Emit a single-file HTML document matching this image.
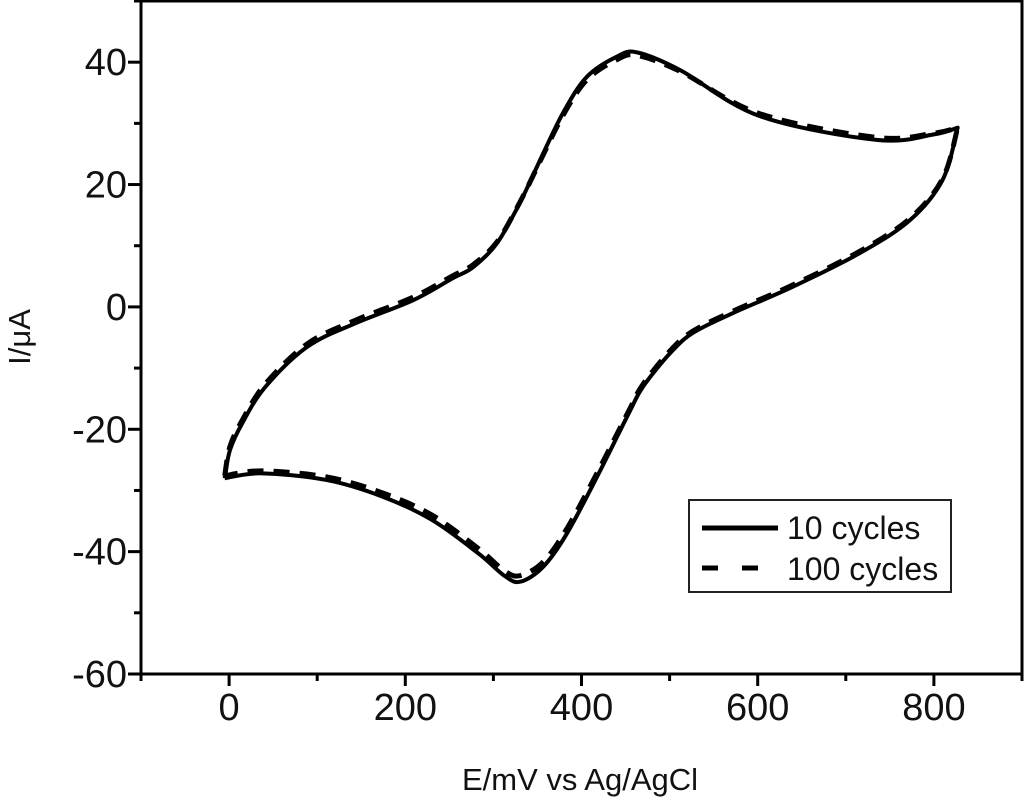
<!DOCTYPE html>
<html><head><meta charset="utf-8"><style>
body{margin:0;background:#fff}
svg{display:block;font-family:"Liberation Sans",sans-serif}
</style></head><body>
<svg id="chart" width="1024" height="808">
<g id="axes"></g><g id="plot"></g>
<text x="580" y="790" font-size="31" text-anchor="middle" fill="#111">E/mV vs Ag/AgCl</text>
<text transform="translate(30,337) rotate(-90)" font-size="31" text-anchor="middle" fill="#111">I/μA</text>
<g>
<rect x="689" y="500" width="262" height="92" fill="#fff" stroke="#222" stroke-width="2"/>
<line x1="702" y1="528" x2="778" y2="528" stroke="#000" stroke-width="5"/>
<line x1="702" y1="568" x2="778" y2="568" stroke="#000" stroke-width="5" stroke-dasharray="16,24"/>
<text x="787" y="539" font-size="32" fill="#111">10 cycles</text>
<text x="787" y="580" font-size="32" fill="#111">100 cycles</text>
</g>
</svg>
<script>
const xTicks=[0,200,400,600,800];
const yTicks=[-60,-40,-20,0,20,40];
const E10=[-5,1,15,41,89,143,209,254,277,304,330,353,379,406,440,463,512,602,735,800,827,810,773,716,640,572,527,501,470,455,420,384,357,331,313,283,230,174,111,37,-5];
const I10=[-28,-23.4,-19,-13.1,-6.5,-2.7,1.1,4.7,6.5,10.4,17,24,31.7,37.6,40.9,41.6,38.7,31.2,27.3,28.2,29.3,20.8,14.2,8.8,3.3,-1,-4.2,-7.5,-13,-17,-27.1,-36.9,-42.4,-44.9,-44,-40.3,-34.8,-31,-28.3,-27.2,-28];
const E100=[-5,1,15,41,89,143,209,254,277,304,330,353,379,406,440,463,512,602,735,800,827,810,773,716,640,572,527,501,470,455,420,384,357,331,313,283,230,174,111,37,-5];
const I100=[-27.6,-22.8,-18.5,-12.6,-6,-2.2,1.6,5.1,6.9,10.6,17.1,23.8,31.3,37.1,40.4,41.1,38.5,31.6,27.7,28.4,29.3,21,14.5,9.1,3.6,-0.7,-3.9,-7.1,-12.6,-16.6,-26.5,-36.1,-41.6,-43.9,-43.2,-39.5,-34,-30.4,-27.8,-26.8,-27.6];
const X0=141,X1=1022,Y0=1,Y1=674,xmin=-100,xmax=900,ymin=-60,ymax=50;
const sx=v=>X0+(v-xmin)/(xmax-xmin)*(X1-X0);
const sy=v=>Y1-(v-ymin)/(ymax-ymin)*(Y1-Y0);
const NS="http://www.w3.org/2000/svg";
const axes=document.getElementById('axes'),plot=document.getElementById('plot');
function mk(t,a,p){const e=document.createElementNS(NS,t);for(const k in a)e.setAttribute(k,a[k]);p.appendChild(e);return e;}
const frame=mk('rect',{x:X0,y:Y0,width:X1-X0,height:Y1-Y0,fill:'none',stroke:'#000','stroke-width':3},axes);


for(let v=-100;v<=900;v+=100){const maj=v%200===0;const t=mk('line',{x1:sx(v),x2:sx(v),y1:Y1,y2:Y1+(maj?12:7),stroke:'#000','stroke-width':3},axes);

}
for(let v=-60;v<=50;v+=10){const maj=v%20===0;const t=mk('line',{x1:X0,x2:X0-(maj?13:7),y1:sy(v),y2:sy(v),stroke:'#000','stroke-width':3},axes);

}
xTicks.forEach(v=>{const t=mk('text',{x:sx(v),y:720,'font-size':38,'text-anchor':'middle',fill:'#111'},axes);t.textContent=v;

});
yTicks.forEach(v=>{const t=mk('text',{x:127,y:sy(v)+13,'font-size':38,'text-anchor':'end',fill:'#111'},axes);t.textContent=v;

});
function spline(p){let d='';for(let i=0;i<p.length-1;i++){const a=p[Math.max(0,i-1)],b=p[i],c=p[i+1],n=p[Math.min(p.length-1,i+2)];
const c1=[b[0]+(c[0]-a[0])/6,b[1]+(c[1]-a[1])/6],c2=[c[0]-(n[0]-b[0])/6,c[1]-(n[1]-b[1])/6];d+=' C'+c1+' '+c2+' '+c;}return d;}
function path(E,I){const p=E.map((e,i)=>[sx(e),sy(I[i])]);let k=0;E.forEach((e,i)=>{if(e>E[k])k=i;});
return 'M'+p[0]+spline(p.slice(0,k+1))+spline(p.slice(k));}
const l100=mk('path',{d:path(E100,I100),fill:'none',stroke:'#000','stroke-width':5,'stroke-dasharray':'16,10'},plot);


const l10=mk('path',{d:path(E10,I10),fill:'none',stroke:'#000','stroke-width':4,'stroke-linejoin':'round'},plot);


</script>
</body></html>
